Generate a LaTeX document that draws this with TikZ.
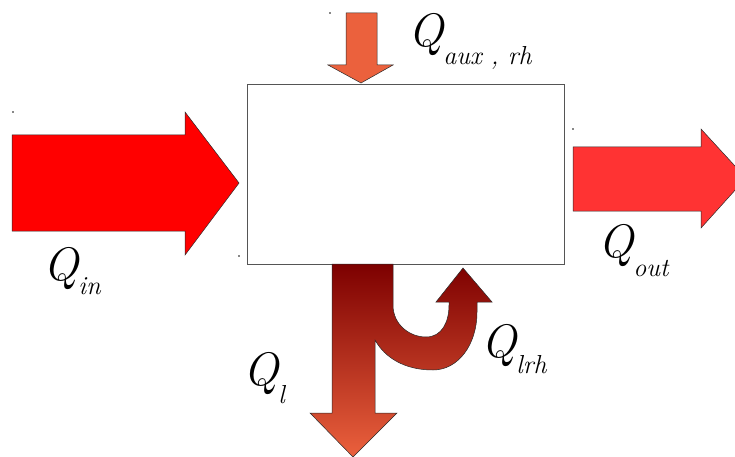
\documentclass[tikz,border=0pt]{standalone}
\definecolor{inred}{HTML}{FF0000}
\definecolor{outred}{HTML}{FF3333}
\definecolor{auxorange}{HTML}{EB613D}
\definecolor{lossdark}{HTML}{7D0000}
\definecolor{lossorange}{HTML}{EB613D}
\definecolor{myborder}{HTML}{555555}
\definecolor{myoutline}{HTML}{2A2A2A}
\definecolor{myhandle}{HTML}{888888}
\tikzset{
zone/.style={
draw=myborder,
fill=white,
line width=0.9pt,
minimum width=317pt,
minimum height=180pt,
inner sep=0pt
},
flow/.style={
draw=myoutline,
line width=0.5pt,
line join=miter
},
qlabel/.style={
anchor=base west,
inner sep=0pt,
font=\itshape
},
handle/.style={
fill=myhandle
}
}
% Q with a lowered subscript: #1 subscript, #2 drop
\newcommand{\qflow}[2]{{\fontsize{47}{47}\selectfont Q}\raisebox{-#2pt}{\fontsize{26}{26}\selectfont #1}}

\begin{document}
\begin{tikzpicture}[x=1pt,y=-1pt]
\useasboundingbox (0,0) rectangle (735,457);

\node[zone] (zone) at (405.5,174) {};

% straight flows
\fill[flow, fill=inred] (12,135) -- (185,135) -- (185,112) -- (239,183) -- (185,255)
  -- (185,231) -- (12,231) -- cycle;
\fill[flow, fill=outred] (573,147) -- (701,147) -- (701,129) -- (746,178) -- (701,228)
  -- (701,211) -- (573,211) -- cycle;
\fill[flow, fill=auxorange] (346,13) -- (377,13) -- (377,65) -- (393,65) -- (361,83)
  -- (328,65) -- (346,65) -- cycle;

% losses with recovered part
\path[flow, top color=lossdark, bottom color=lossorange]
  (332,264) -- (393,264) -- (393,305)
  .. controls (393,325) and (410,337) .. (426,337)
  .. controls (442,337) and (449,322) .. (449,305)
  -- (449,302) -- (436,302) -- (463,268) -- (492,302) -- (477,302) -- (477,312)
  .. controls (477,345) and (458,370) .. (433,370)
  .. controls (405,370) and (385,358) .. (375,340)
  -- (375,413) -- (397,413) -- (353,457) -- (310,413) -- (332,413) -- cycle;

\node[qlabel] (qin) at (43,280) {\qflow{in}{14}};
\node[qlabel] (qout) at (598,257) {\qflow{out}{19}};
\node[qlabel] (qaux) at (408,47) {\qflow{aux , rh}{18}};
\node[qlabel] (qlrh) at (481,357) {\qflow{lrh}{16}};
\node[qlabel] (ql) at (243,385) {\qflow{l}{18}};

\foreach \hx/\hy in {13/112, 573/129, 239/256, 330/13} {
  \fill[handle] (\hx-0.8,\hy-0.8) rectangle (\hx+0.8,\hy+0.8);
}
\end{tikzpicture}
\end{document}
